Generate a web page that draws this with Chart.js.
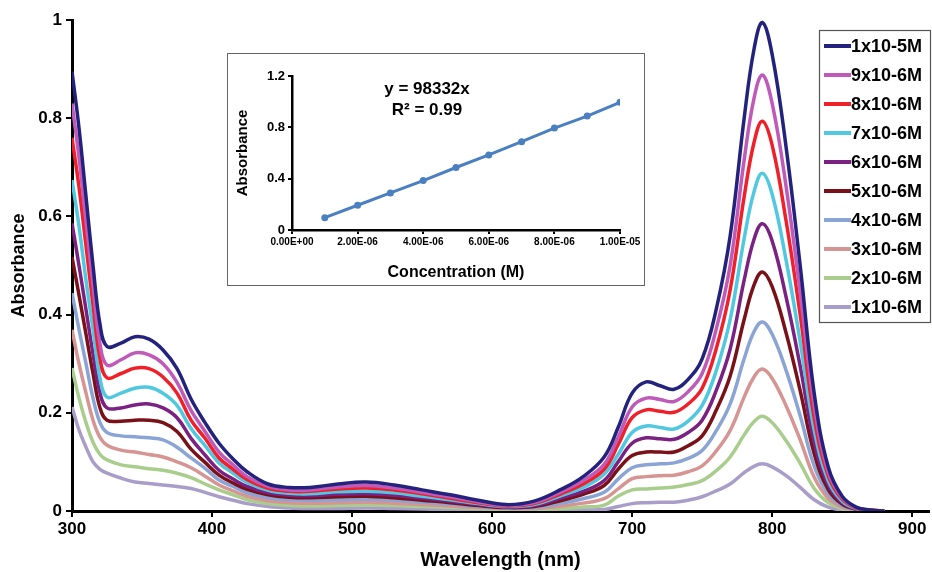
<!DOCTYPE html>
<html>
<head>
<meta charset="utf-8">
<script src="https://cdn.jsdelivr.net/npm/chart.js@4.4.0/dist/chart.umd.min.js"></script>
<style>
  html, body { margin: 0; padding: 0; background: #fff; }
  #wrap { position: relative; width: 932px; height: 572px; }
  #mainChart { position: absolute; left: 0; top: 0; }
  #insetBox { position: absolute; left: 227px; top: 53px; width: 418px; height: 233px;
              border: 1.5px solid #666; background: #fff; box-sizing: border-box; }
  #insetChart { position: absolute; left: 0; top: 0; }
</style>
</head>
<body>
<div id="wrap">
  <canvas id="mainChart" width="932" height="572"></canvas>
  <div id="insetBox"><canvas id="insetChart" width="415" height="230"></canvas></div>
</div>
<script>
/* UV-Vis spectra at 10 concentrations + calibration inset */
const wavelengths = [300, 305, 310, 315, 320, 325, 335, 345, 355, 365, 375, 385, 395, 405, 415, 425,
  440, 455, 470, 490, 510, 530, 550, 570, 590, 610, 630, 650, 665, 680, 690, 700, 710, 720, 730, 740,
  750, 760, 770, 780, 787, 793, 800, 810, 820, 830, 840, 850, 860, 870, 880];

const labels = ['1x10-5M', '9x10-6M', '8x10-6M', '7x10-6M', '6x10-6M',
                '5x10-6M', '4x10-6M', '3x10-6M', '2x10-6M', '1x10-6M'];
const colors = ['#23237e', '#c05ab8', '#f0202a', '#50c8e0', '#7a2182',
                '#7a1018', '#8aa4d6', '#d69492', '#a9cd8c', '#a99ec9'];

const abs1e5 = [0.895, 0.78, 0.64, 0.50, 0.38, 0.335, 0.342, 0.355, 0.35, 0.328, 0.29, 0.228, 0.18, 0.138, 0.106, 0.08,
  0.055, 0.048, 0.048, 0.055, 0.059, 0.053, 0.043, 0.033, 0.022, 0.013, 0.02, 0.045, 0.07, 0.11, 0.17, 0.24, 0.263, 0.255, 0.248, 0.268,
  0.31, 0.41, 0.56, 0.80, 0.94, 0.995, 0.93, 0.74, 0.50, 0.24, 0.09, 0.03, 0.008, 0.002, 0];
const abs9e6 = [0.83, 0.72, 0.59, 0.46, 0.34, 0.297, 0.308, 0.322, 0.318, 0.30, 0.262, 0.205, 0.162, 0.12, 0.094, 0.07,
  0.05, 0.043, 0.043, 0.049, 0.052, 0.047, 0.038, 0.029, 0.019, 0.011, 0.017, 0.04, 0.062, 0.095, 0.15, 0.212, 0.23, 0.227, 0.223, 0.243,
  0.28, 0.37, 0.50, 0.715, 0.84, 0.888, 0.83, 0.66, 0.445, 0.215, 0.08, 0.027, 0.007, 0.002, 0];
const abs8e6 = [0.76, 0.66, 0.54, 0.42, 0.31, 0.271, 0.28, 0.291, 0.29, 0.273, 0.24, 0.185, 0.148, 0.108, 0.085, 0.064,
  0.046, 0.04, 0.04, 0.045, 0.047, 0.043, 0.035, 0.026, 0.017, 0.01, 0.015, 0.036, 0.055, 0.085, 0.135, 0.19, 0.206, 0.203, 0.201, 0.218,
  0.25, 0.33, 0.45, 0.64, 0.75, 0.794, 0.745, 0.59, 0.40, 0.19, 0.072, 0.024, 0.006, 0.002, 0];
const abs7e6 = [0.674, 0.58, 0.47, 0.37, 0.27, 0.232, 0.24, 0.25, 0.252, 0.24, 0.215, 0.168, 0.133, 0.098, 0.077, 0.058,
  0.042, 0.036, 0.035, 0.039, 0.04, 0.037, 0.03, 0.023, 0.015, 0.009, 0.013, 0.032, 0.048, 0.075, 0.115, 0.16, 0.173, 0.17, 0.167, 0.183,
  0.215, 0.285, 0.39, 0.555, 0.65, 0.688, 0.645, 0.51, 0.345, 0.165, 0.062, 0.02, 0.005, 0.001, 0];
const abs6e6 = [0.586, 0.50, 0.41, 0.32, 0.24, 0.21, 0.21, 0.216, 0.218, 0.21, 0.19, 0.148, 0.114, 0.083, 0.065, 0.05,
  0.037, 0.032, 0.031, 0.034, 0.035, 0.032, 0.026, 0.02, 0.013, 0.008, 0.011, 0.027, 0.04, 0.062, 0.1, 0.138, 0.149, 0.147, 0.146, 0.16,
  0.185, 0.245, 0.33, 0.47, 0.553, 0.585, 0.55, 0.435, 0.295, 0.14, 0.053, 0.017, 0.004, 0.001, 0];
const abs5e6 = [0.517, 0.44, 0.36, 0.28, 0.21, 0.185, 0.183, 0.185, 0.185, 0.18, 0.162, 0.126, 0.099, 0.073, 0.057, 0.044,
  0.033, 0.028, 0.027, 0.029, 0.03, 0.027, 0.022, 0.017, 0.011, 0.007, 0.009, 0.022, 0.034, 0.052, 0.085, 0.113, 0.12, 0.12, 0.12, 0.133,
  0.153, 0.205, 0.275, 0.39, 0.46, 0.487, 0.457, 0.362, 0.245, 0.117, 0.044, 0.014, 0.004, 0.001, 0];
const abs4e6 = [0.444, 0.37, 0.30, 0.23, 0.18, 0.16, 0.153, 0.151, 0.149, 0.145, 0.13, 0.108, 0.087, 0.063, 0.05, 0.037,
  0.027, 0.023, 0.022, 0.023, 0.024, 0.022, 0.018, 0.014, 0.009, 0.006, 0.007, 0.016, 0.025, 0.038, 0.065, 0.088, 0.094, 0.096, 0.098, 0.107,
  0.123, 0.163, 0.218, 0.31, 0.365, 0.385, 0.36, 0.286, 0.194, 0.092, 0.035, 0.011, 0.003, 0.001, 0];
const abs3e6 = [0.369, 0.30, 0.24, 0.185, 0.15, 0.134, 0.124, 0.12, 0.115, 0.11, 0.1, 0.088, 0.071, 0.053, 0.041, 0.03,
  0.021, 0.017, 0.016, 0.017, 0.018, 0.016, 0.013, 0.01, 0.007, 0.005, 0.005, 0.01, 0.016, 0.025, 0.045, 0.066, 0.07, 0.072, 0.073, 0.08,
  0.092, 0.122, 0.164, 0.232, 0.273, 0.289, 0.27, 0.214, 0.145, 0.069, 0.026, 0.008, 0.002, 0.001, 0];
const abs2e6 = [0.291, 0.23, 0.18, 0.14, 0.115, 0.104, 0.094, 0.09, 0.086, 0.083, 0.077, 0.068, 0.055, 0.043, 0.033, 0.023,
  0.015, 0.011, 0.01, 0.011, 0.012, 0.011, 0.009, 0.007, 0.005, 0.003, 0.003, 0.005, 0.008, 0.012, 0.03, 0.043, 0.045, 0.047, 0.049, 0.054,
  0.062, 0.082, 0.11, 0.155, 0.182, 0.193, 0.18, 0.143, 0.097, 0.046, 0.017, 0.005, 0.001, 0, 0];
const abs1e6 = [0.212, 0.165, 0.13, 0.10, 0.085, 0.077, 0.067, 0.059, 0.056, 0.053, 0.05, 0.046, 0.038, 0.029, 0.022, 0.015,
  0.009, 0.006, 0.005, 0.005, 0.006, 0.005, 0.004, 0.003, 0.002, 0.001, 0.001, 0.001, 0.002, 0.003, 0.009, 0.015, 0.017, 0.018, 0.018, 0.022,
  0.029, 0.041, 0.055, 0.078, 0.091, 0.096, 0.09, 0.072, 0.048, 0.023, 0.008, 0.002, 0, 0, 0];

const spectra = [abs1e5, abs9e6, abs8e6, abs7e6, abs6e6, abs5e6, abs4e6, abs3e6, abs2e6, abs1e6];

// calibration inset (absorbance at ~793 nm)
const concentrations = [1e-6, 2e-6, 3e-6, 4e-6, 5e-6, 6e-6, 7e-6, 8e-6, 9e-6, 1e-5];
const peakAbs = [0.096, 0.193, 0.289, 0.385, 0.487, 0.585, 0.688, 0.794, 0.888, 0.995];

const BOLD = 'bold';
const SANS = "'Liberation Sans', Arial, sans-serif";

// legend box drawn over the plot area, top right
const legendBox = {
    id: 'legendBox',
    afterDraw(chart) {
        const ctx = chart.ctx;
        ctx.save();
        ctx.fillStyle = '#fff';
        ctx.fillRect(819, 30, 112, 292);
        ctx.strokeStyle = '#555';
        ctx.lineWidth = 1.2;
        ctx.strokeRect(819.5, 30.5, 111, 292);
        chart.data.datasets.forEach((ds, i) => {
            const y = 46 + i * 29;
            ctx.strokeStyle = ds.borderColor;
            ctx.lineWidth = 4;
            ctx.beginPath();
            ctx.moveTo(824, y);
            ctx.lineTo(851, y);
            ctx.stroke();
            ctx.fillStyle = '#000';
            ctx.font = 'bold 18px ' + SANS;
            ctx.textBaseline = 'middle';
            ctx.textAlign = 'left';
            ctx.fillText(ds.label, 851, y + 1);
        });
        ctx.restore();
    }
};

const mainCtx = document.getElementById('mainChart').getContext('2d');
const spectraChart = new Chart(mainCtx, {
    type: 'line',
    data: {
        datasets: spectra.map((vals, i) => ({
            label: labels[i],
            data: wavelengths.map((w, j) => ({ x: w, y: vals[j] })),
            borderColor: colors[i],
            backgroundColor: colors[i],
            borderWidth: 3.5,
            pointRadius: 0,
            fill: false,
            tension: 0.4
        }))
    },
    options: {
        responsive: false,
        animation: false,
        layout: { padding: { top: 20, right: 3, left: 0, bottom: 0 } },
        plugins: {
            legend: { display: false },
            tooltip: { enabled: false }
        },
        scales: {
            x: {
                type: 'linear',
                min: 300,
                max: 912,
                afterFit: (s) => { s.height = 61; },
                border: { display: true, color: '#000', width: 3 },
                grid: { display: true, drawOnChartArea: false, drawTicks: true, tickLength: 6, color: '#000', lineWidth: 2 },
                ticks: {
                    stepSize: 100,
                    includeBounds: false,
                    color: '#000',
                    padding: 2,
                    maxRotation: 0,
                    font: { family: SANS, size: 17, weight: BOLD }
                },
                title: {
                    display: true,
                    text: 'Wavelength (nm)',
                    color: '#000',
                    padding: { top: 0, bottom: 0 },
                    font: { family: SANS, size: 20, weight: BOLD }
                }
            },
            y: {
                min: 0,
                max: 1,
                afterFit: (s) => { s.width = 72; },
                border: { display: true, color: '#000', width: 3 },
                grid: { display: true, drawOnChartArea: false, drawTicks: true, tickLength: 6, color: '#000', lineWidth: 2 },
                ticks: {
                    stepSize: 0.2,
                    color: '#000',
                    padding: 4,
                    callback: (v) => String(Math.round(v * 10) / 10),
                    font: { family: SANS, size: 17, weight: BOLD }
                },
                title: {
                    display: true,
                    text: 'Absorbance',
                    color: '#000',
                    padding: { top: 8, bottom: 0 },
                    font: { family: SANS, size: 18, weight: BOLD }
                }
            }
        }
    },
    plugins: [legendBox]
});

// scientific labels like 2.00E-06
function sciLabel(v) {
    if (Math.abs(v) < 1e-12) return '0.00E+00';
    const parts = v.toExponential(2).split('e');
    const n = parseInt(parts[1], 10);
    return parts[0] + 'E' + (n < 0 ? '-' : '+') + String(Math.abs(n)).padStart(2, '0');
}

// equation text in the inset
const equationText = {
    id: 'equationText',
    afterDraw(chart) {
        const ctx = chart.ctx;
        const a = chart.chartArea;
        ctx.save();
        ctx.fillStyle = '#000';
        ctx.font = 'bold 17px ' + SANS;
        ctx.textAlign = 'center';
        ctx.textBaseline = 'middle';
        ctx.fillText('y = 98332x', a.left + 135, a.top + 13);
        ctx.fillText('R\u00b2 = 0.99', a.left + 135, a.top + 34);
        ctx.restore();
    }
};

const insetCtx = document.getElementById('insetChart').getContext('2d');
const calibChart = new Chart(insetCtx, {
    type: 'line',
    data: {
        datasets: [{
            label: 'Absorbance',
            data: concentrations.map((c, i) => ({ x: c, y: peakAbs[i] })),
            borderColor: '#4a7fc1',
            backgroundColor: '#4a7fc1',
            borderWidth: 3,
            pointRadius: 3.5,
            pointBorderWidth: 0,
            tension: 0
        }]
    },
    options: {
        responsive: false,
        animation: false,
        layout: { padding: { top: 22, right: 23, left: 0, bottom: 0 } },
        plugins: {
            legend: { display: false },
            tooltip: { enabled: false }
        },
        scales: {
            x: {
                type: 'linear',
                min: 0,
                max: 1e-5,
                afterFit: (s) => { s.height = 54; },
                border: { display: true, color: '#000', width: 2.5 },
                grid: { display: true, drawOnChartArea: false, drawTicks: true, tickLength: 4, color: '#000', lineWidth: 2 },
                ticks: {
                    stepSize: 2e-6,
                    color: '#000',
                    padding: 2,
                    maxRotation: 0,
                    autoSkip: false,
                    callback: (v) => sciLabel(v),
                    font: { family: SANS, size: 10, weight: BOLD }
                },
                title: {
                    display: true,
                    text: 'Concentration (M)',
                    color: '#000',
                    padding: { top: 4, bottom: 2 },
                    font: { family: SANS, size: 16, weight: BOLD }
                }
            },
            y: {
                min: 0,
                max: 1.2,
                afterFit: (s) => { s.width = 64; },
                border: { display: true, color: '#000', width: 2.5 },
                grid: { display: true, drawOnChartArea: false, drawTicks: true, tickLength: 4, color: '#000', lineWidth: 2 },
                ticks: {
                    stepSize: 0.4,
                    color: '#000',
                    padding: 3,
                    font: { family: SANS, size: 13, weight: BOLD }
                },
                title: {
                    display: true,
                    text: 'Absorbance',
                    color: '#000',
                    padding: { top: 6, bottom: 2 },
                    font: { family: SANS, size: 15, weight: BOLD }
                }
            }
        }
    },
    plugins: [equationText]
});
</script>
</body>
</html>
